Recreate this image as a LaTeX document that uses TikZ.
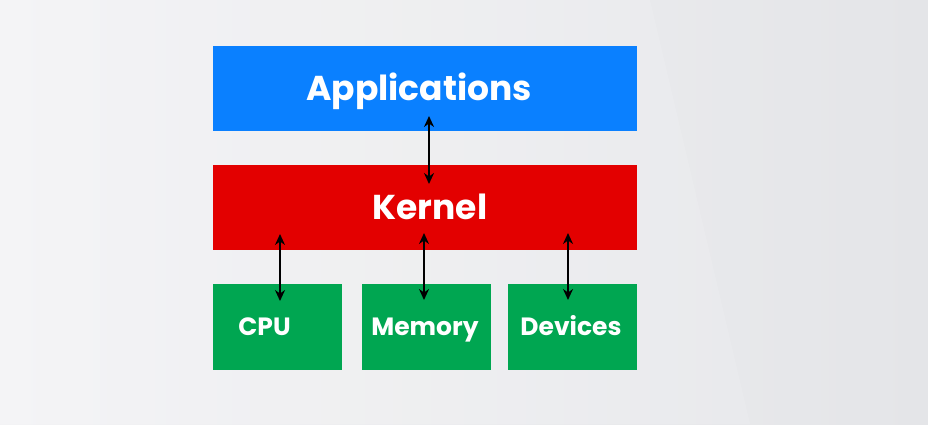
\documentclass[tikz,border=0pt]{standalone}
\usepackage{fontspec}
\setmainfont{Poppins}
\usetikzlibrary{arrows.meta}
\definecolor{bgA}{HTML}{F3F3F5}
\definecolor{bgB}{HTML}{E4E5E8}
\definecolor{appblue}{HTML}{0A80FF}
\definecolor{kernred}{HTML}{E30000}
\definecolor{hwgreen}{HTML}{00A651}
\tikzset{
  layer/.style={draw=none, minimum height=85pt, inner sep=0pt},
  laytext/.style={anchor=base, text=white, inner sep=0pt, font=\fontsize{34.5}{34.5}\selectfont\bfseries},
  hwbox/.style={draw=none, minimum width=129pt, minimum height=86pt, inner sep=0pt, fill=hwgreen},
  hwtext/.style={anchor=base, text=white, inner sep=0pt, font=\fontsize{25}{25}\selectfont\bfseries},
  link/.style={{Stealth[length=11pt,width=10pt]}-{Stealth[length=11pt,width=10pt]}, line width=2.5pt, black}
}
\begin{document}
\begin{tikzpicture}[x=1pt,y=-1pt]
\useasboundingbox (0,0) rectangle (928,424);
\shade[left color=bgA, right color=bgB] (0,0) rectangle (928,424);
\fill[white, opacity=0.12] (0,0) -- (650,0) -- (750,424) -- (0,424) -- cycle;
\node[layer, fill=appblue, minimum width=424pt] (app) at (425,88.5) {};
\node[laytext] (apptxt) at (419,100) {Applications};
\node[layer, fill=kernred, minimum width=424pt] (kern) at (425,207) {};
\node[laytext] (kerntxt) at (430,219) {Kernel};
\node[hwbox] (cpu) at (277.5,326.5) {};
\node[hwbox] (mem) at (426,326.5) {};
\node[hwbox] (dev) at (572,326.5) {};
\node[hwtext] (cputxt) at (264.5,335) {CPU};
\node[hwtext] (memtxt) at (425,335) {Memory};
\node[hwtext] (devtxt) at (571,335) {Devices};
\coordinate (a1) at (429,116);
\coordinate (a2) at (429,184);
\coordinate (c1) at (280,234);
\coordinate (c2) at (280,301);
\coordinate (m1) at (424,233);
\coordinate (m2) at (424,300);
\coordinate (d1) at (568,233);
\coordinate (d2) at (568,300);
\draw[link] (a1) -- (a2);
\draw[link] (c1) -- (c2);
\draw[link] (m1) -- (m2);
\draw[link] (d1) -- (d2);
\end{tikzpicture}
\end{document}
